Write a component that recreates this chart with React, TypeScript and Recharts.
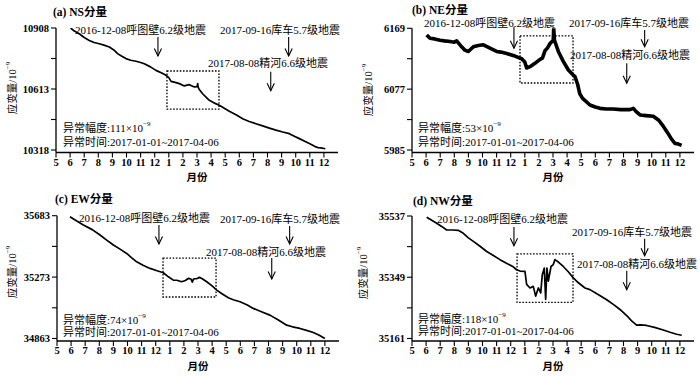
import React from "react";
import { LineChart, Line, XAxis, YAxis, ReferenceArea, ReferenceLine } from "recharts";

const FONT = "'Liberation Serif','Times New Roman','Noto Sans CJK SC',serif";

// x = months since 2016-05-01
const monthTicks = [0, 1, 2, 3, 4, 5, 6, 7, 8, 9, 10, 11, 12, 13, 14, 15, 16, 17, 18, 19];
const monthLabels = ["5", "6", "7", "8", "9", "10", "11", "12", "1", "2", "3", "4", "5", "6", "7", "8", "9", "10", "11", "12"];

const eventHutubi = 7.23; // 2016-12-08
const eventJinghe = 15.23; // 2017-08-08
const eventKuche = 16.5; // 2017-09-16

const eventTextHutubi = "2016-12-08呼图壁6.2级地震";
const eventTextKuche = "2017-09-16库车5.7级地震";
const eventTextJinghe = "2017-08-08精河6.6级地震";
const anomalyTime = "异常时间:2017-01-01~2017-04-06";

// (a) NS
const nsIdx = [1.04, 1.3, 1.65, 2.0, 2.36, 2.7, 3.07, 3.4, 3.78, 4.1, 4.37, 4.7, 4.96, 5.3, 5.67, 6.0, 6.26, 6.7, 7.09, 7.5, 7.8, 8.0, 8.16, 8.45, 8.75, 9.1, 9.3, 9.46, 9.65, 9.81, 10.0, 10.05, 10.08, 10.15, 10.4, 10.87, 11.2, 11.58, 12.29, 12.8, 13.24, 13.7, 14.18, 14.6, 15.13, 15.6, 16.08, 16.55, 16.9, 17.26, 17.6, 17.97, 18.44, 18.6, 18.79, 19.1];
const nsVal = [10908, 10893, 10880, 10862, 10848, 10838, 10832, 10825, 10816, 10802, 10784, 10770, 10760, 10752, 10747, 10741, 10735, 10720, 10703, 10690, 10679, 10668, 10650, 10645, 10639, 10628, 10632, 10634, 10628, 10623, 10624, 10639, 10622, 10612, 10590, 10558, 10546, 10534, 10505, 10487, 10469, 10456, 10445, 10436, 10424, 10414, 10405, 10397, 10385, 10373, 10362, 10349, 10333, 10329, 10328, 10324];

// (b) NE
const neIdx = [1.04, 1.28, 1.6, 1.99, 2.3, 2.7, 3.0, 3.17, 3.52, 3.75, 4.0, 4.2, 4.35, 4.7, 5.06, 5.53, 6.0, 6.3, 6.72, 7.0, 7.3, 7.78, 8.0, 8.13, 8.37, 8.72, 9.08, 9.25, 9.43, 9.6, 9.79, 10.02, 10.05, 10.1, 10.38, 10.73, 11.09, 11.4, 11.56, 11.75, 11.9, 12.1, 12.62, 13.0, 13.33, 13.8, 14.28, 14.8, 15.2, 15.46, 15.7, 15.9, 16.17, 16.6, 17.11, 17.5, 17.82, 18.1, 18.42, 18.65, 18.9, 19.12];
const neVal = [6159, 6154, 6153, 6151, 6150, 6149, 6148, 6150, 6141, 6136, 6134, 6138, 6141, 6143, 6144, 6139, 6134, 6133, 6131, 6129, 6127, 6123, 6118, 6109, 6111, 6116, 6122, 6124, 6135, 6139, 6146, 6151, 6170, 6151, 6134, 6119, 6106, 6099, 6096, 6084, 6070, 6063, 6053, 6050, 6048, 6047, 6047, 6046, 6046, 6046, 6048, 6043, 6038, 6037, 6036, 6030, 6021, 6012, 6001, 5995, 5994, 5992];

// (c) EW
const ewIdx = [0.92, 1.4, 1.87, 2.5, 3.05, 3.5, 4.0, 4.5, 4.94, 5.3, 5.65, 6.1, 6.6, 7.1, 7.54, 7.9, 8.25, 8.5, 8.84, 9.1, 9.31, 9.5, 9.6, 9.67, 9.75, 9.9, 10.1, 10.3, 10.62, 11.0, 11.33, 11.7, 12.15, 12.5, 12.98, 13.5, 13.92, 14.5, 15.1, 15.7, 16.29, 16.7, 17.23, 17.7, 18.18, 18.6, 19.0];
const ewVal = [35676, 35648, 35621, 35590, 35554, 35522, 35487, 35458, 35431, 35402, 35375, 35352, 35331, 35315, 35302, 35275, 35253, 35252, 35242, 35250, 35264, 35260, 35240, 35258, 35262, 35262, 35271, 35262, 35242, 35214, 35186, 35162, 35135, 35122, 35108, 35086, 35064, 35042, 35019, 34987, 34952, 34941, 34930, 34917, 34903, 34885, 34863];

// (d) NW
const nwIdx = [1.04, 1.4, 1.75, 2.1, 2.46, 2.9, 3.28, 3.64, 4.0, 4.35, 4.8, 5.3, 5.8, 6.24, 6.7, 7.18, 7.42, 7.66, 8.01, 8.13, 8.37, 8.6, 8.77, 8.96, 9.13, 9.24, 9.38, 9.48, 9.57, 9.67, 9.86, 10.02, 10.14, 10.4, 10.73, 11.1, 11.44, 11.8, 12.27, 12.62, 13.2, 13.81, 14.3, 14.75, 15.3, 15.6, 15.93, 16.2, 16.64, 17.2, 17.82, 18.3, 18.77, 19.13];
const nwVal = [35533, 35524, 35515, 35505, 35494, 35494, 35493, 35484, 35470, 35459, 35445, 35428, 35415, 35403, 35392, 35381, 35372, 35368, 35367, 35327, 35316, 35321, 35291, 35316, 35301, 35357, 35377, 35281, 35377, 35337, 35382, 35388, 35403, 35395, 35382, 35365, 35347, 35332, 35316, 35311, 35296, 35280, 35265, 35250, 35228, 35214, 35202, 35203, 35201, 35195, 35187, 35180, 35174, 35171];

const toRows = (xs: number[], vs: number[]) => xs.map((x, i) => ({ x, v: vs[i] }));

type Txt = { x: number; y: number; s: string; anchor?: "start" | "end" | "middle"; sup?: string; size?: number; bold?: boolean };

type Panel = {
  rows: { x: number; v: number }[];
  yMin: number;
  yMax: number;
  left: number;
  top: number;
  width: number;
  height: number;
  yAxisW: number;
  mTop: number;
  mRight: number;
  xAxisH: number;
  sw: number;
  box: [number, number, number, number];
  arrows: { x: number; y1: number; y2: number }[];
  texts: Txt[];
};

const panels: Panel[] = [
  {
    rows: toRows(nsIdx, nsVal),
    yMin: 10318, yMax: 10908,
    left: 0, top: 0, width: 350, height: 188, yAxisW: 56, mTop: 28, mRight: 12, xAxisH: 35.5, sw: 1.7,
    box: [7.87, 11.56, 10516, 10700],
    arrows: [
      { x: eventHutubi, y1: 10864.5, y2: 10772.6 },
      { x: eventKuche, y1: 10864.5, y2: 10772.6 },
      { x: eventJinghe, y1: 10696.7, y2: 10604.8 },
    ],
    texts: [
      { x: 53, y: 12, s: "(a) NS分量", bold: true, size: 11.5 },
      { x: 75, y: 30, s: eventTextHutubi },
      { x: 340, y: 30, s: eventTextKuche, anchor: "end" },
      { x: 328, y: 63, s: eventTextJinghe, anchor: "end" },
      { x: 63, y: 128, s: "异常幅度:111×10", sup: "−9" },
      { x: 63, y: 142, s: anomalyTime },
      { x: 197, y: 177, s: "月份", anchor: "middle", size: 10.5, bold: true },
    ],
  },
  {
    rows: toRows(neIdx, neVal),
    yMin: 5985, yMax: 6169,
    left: 350, top: 0, width: 350, height: 188, yAxisW: 62, mTop: 28.3, mRight: 6, xAxisH: 35.5, sw: 3.6,
    box: [7.66, 11.42, 6086.3, 6157.4],
    arrows: [
      { x: eventHutubi, y1: 6171.4, y2: 6138.8 },
      { x: eventKuche, y1: 6166.4, y2: 6141.2 },
      { x: eventJinghe, y1: 6116.1, y2: 6085.8 },
    ],
    texts: [
      { x: 412, y: 10, s: "(b) NE分量", bold: true, size: 11.5 },
      { x: 424, y: 23, s: eventTextHutubi },
      { x: 689, y: 23, s: eventTextKuche, anchor: "end" },
      { x: 690, y: 55, s: eventTextJinghe, anchor: "end" },
      { x: 418, y: 128, s: "异常幅度:53×10", sup: "−9" },
      { x: 418, y: 142, s: anomalyTime },
      { x: 553, y: 177, s: "月份", anchor: "middle", size: 10.5, bold: true },
    ],
  },
  {
    rows: toRows(ewIdx, ewVal),
    yMin: 34863, yMax: 35683,
    left: 0, top: 186, width: 350, height: 190, yAxisW: 57, mTop: 29.7, mRight: 11, xAxisH: 35, sw: 1.7,
    box: [7.52, 11.28, 35140, 35400],
    arrows: [
      { x: eventHutubi, y1: 35621, y2: 35494 },
      { x: eventKuche, y1: 35614, y2: 35494 },
      { x: eventJinghe, y1: 35400, y2: 35260 },
    ],
    texts: [
      { x: 55, y: 199, s: "(c) EW分量", bold: true, size: 11.5 },
      { x: 79, y: 218, s: eventTextHutubi },
      { x: 340, y: 219, s: eventTextKuche, anchor: "end" },
      { x: 326, y: 252, s: eventTextJinghe, anchor: "end" },
      { x: 63, y: 320, s: "异常幅度:74×10", sup: "−9" },
      { x: 63, y: 332, s: anomalyTime },
      { x: 198, y: 366, s: "月份", anchor: "middle", size: 10.5, bold: true },
    ],
  },
  {
    rows: toRows(nwIdx, nwVal),
    yMin: 35161, yMax: 35537,
    left: 350, top: 186, width: 350, height: 190, yAxisW: 62, mTop: 30, mRight: 6, xAxisH: 35, sw: 1.7,
    box: [7.45, 11.42, 35272, 35421],
    arrows: [
      { x: eventHutubi, y1: 35503.5, y2: 35445.5 },
      { x: eventKuche, y1: 35467, y2: 35415 },
      { x: eventJinghe, y1: 35369, y2: 35311 },
    ],
    texts: [
      { x: 413, y: 201, s: "(d) NW分量", bold: true, size: 11.5 },
      { x: 437, y: 219, s: eventTextHutubi },
      { x: 692, y: 232, s: eventTextKuche, anchor: "end" },
      { x: 697, y: 264, s: eventTextJinghe, anchor: "end" },
      { x: 418, y: 319, s: "异常幅度:118×10", sup: "−9" },
      { x: 418, y: 331, s: anomalyTime },
      { x: 553, y: 366, s: "月份", anchor: "middle", size: 10.5, bold: true },
    ],
  },
];

const yLabels = [
  { x: 12, y: 88 },
  { x: 368, y: 90 },
  { x: 12, y: 272 },
  { x: 363, y: 273 },
];

const ArrowShape = (p: any) => {
  const x = p.x1;
  const top = Math.min(p.y1, p.y2);
  const bot = Math.max(p.y1, p.y2);
  return (
    <g>
      <line x1={x} y1={top} x2={x} y2={bot} stroke="#000" strokeWidth={1.1} />
      <path d={`M${x - 3.6},${bot - 7.5} L${x},${bot} L${x + 3.6},${bot - 7.5}`} fill="none" stroke="#000" strokeWidth={1.1} />
    </g>
  );
};

const PanelChart = ({ p }: { p: Panel }) => {
  const r = p.yMax - p.yMin;
  const mid = (p.yMin + p.yMax) / 2;
  const yTicks = [p.yMin, p.yMin + r / 4, mid, mid + r / 4, p.yMax];
  const lo = p.yMin - r * 0.0205;
  const tickStyle = { fontSize: 10.5, fill: "#000", fontFamily: FONT, fontWeight: "bold" as const };
  return (
    <div style={{ position: "absolute", left: p.left, top: p.top }}>
      <LineChart
        width={p.width}
        height={p.height}
        data={p.rows}
        margin={{ top: p.mTop, right: p.mRight, left: 0, bottom: 0 }}
      >
        <XAxis
          dataKey="x"
          type="number"
          domain={[0, 20]}
          ticks={monthTicks}
          interval={0}
          tickFormatter={(i: number) => monthLabels[i]}
          tickSize={5}
          tickMargin={1}
          height={p.xAxisH}
          allowDataOverflow
          axisLine={{ stroke: "#000", strokeWidth: 1.3 }}
          tickLine={{ stroke: "#000", strokeWidth: 1.1 }}
          tick={tickStyle}
        />
        <YAxis
          type="number"
          domain={[lo, p.yMax]}
          ticks={yTicks}
          interval={0}
          tickFormatter={(v: number) => (v === p.yMin || v === p.yMax || v === mid ? String(v) : "")}
          width={p.yAxisW}
          tickSize={5}
          tickMargin={2}
          allowDataOverflow
          axisLine={{ stroke: "#000", strokeWidth: 1.3 }}
          tickLine={{ stroke: "#000", strokeWidth: 1.1 }}
          tick={tickStyle}
        />
        <ReferenceArea
          x1={p.box[0]}
          x2={p.box[1]}
          y1={p.box[2]}
          y2={p.box[3]}
          ifOverflow="visible"
          fill="none"
          fillOpacity={0}
          stroke="#000"
          strokeWidth={1.3}
          strokeDasharray="1.6 1.6"
        />
        {p.arrows.map((a, i) => (
          <ReferenceLine
            key={i}
            ifOverflow="visible"
            segment={[{ x: a.x, y: a.y1 }, { x: a.x, y: a.y2 }]}
            shape={ArrowShape}
          />
        ))}
        <Line
          dataKey="v"
          type="linear"
          dot={false}
          activeDot={false}
          stroke="#000"
          strokeWidth={p.sw}
          strokeLinejoin="round"
          isAnimationActive={false}
        />
      </LineChart>
    </div>
  );
};

const TextItem = ({ t }: { t: Txt }) => (
  <text
    x={t.x}
    y={t.y}
    textAnchor={t.anchor || "start"}
    dominantBaseline="central"
    fontSize={t.size || 11}
    fontWeight={t.bold ? "bold" : "normal"}
    fontFamily={FONT}
    fill="#000"
  >
    {t.s}
    {t.sup ? (
      <tspan fontSize={7} dy={-4}>
        {t.sup}
      </tspan>
    ) : null}
  </text>
);

export default function App() {
  return (
    <div style={{ position: "absolute", left: 0, top: 0, width: 700, height: 376, background: "#fff", overflow: "hidden" }}>
      {panels.map((p, i) => (
        <PanelChart key={i} p={p} />
      ))}
      <svg width={700} height={376} style={{ position: "absolute", left: 0, top: 0, pointerEvents: "none" }}>
        {panels.map((p, i) => (
          <g key={i}>
            {p.texts.map((t, j) => (
              <TextItem key={j} t={t} />
            ))}
          </g>
        ))}
        {yLabels.map((l, i) => (
          <text
            key={i}
            transform={`translate(${l.x},${l.y}) rotate(-90)`}
            textAnchor="middle"
            dominantBaseline="central"
            fontSize={10.5}
            fontFamily={FONT}
            fill="#000"
          >
            应变量/10
            <tspan fontSize={7} dy={-4}>
              −9
            </tspan>
          </text>
        ))}
      </svg>
    </div>
  );
}
